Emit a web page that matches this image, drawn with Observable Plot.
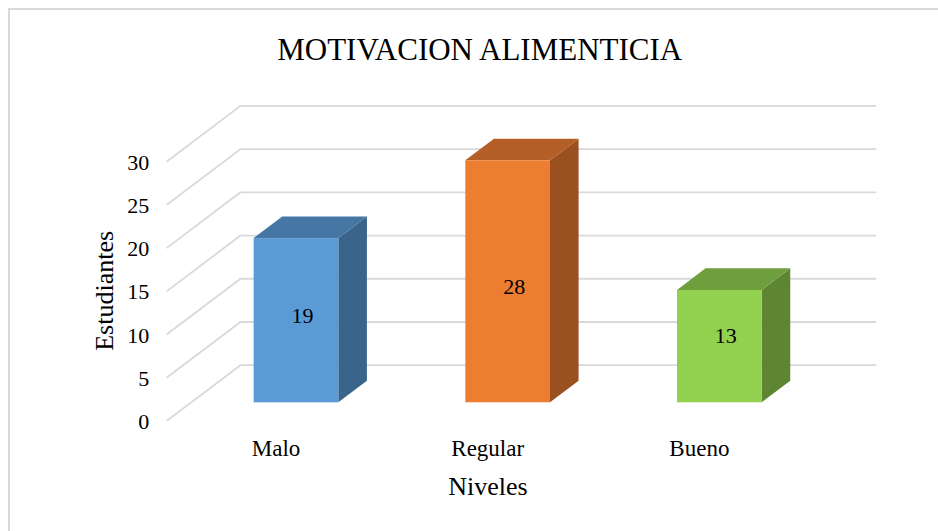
<!DOCTYPE html>
<html>
<head>
<meta charset="utf-8">
<script src="https://cdn.jsdelivr.net/npm/d3@7"></script>
<script src="https://cdn.jsdelivr.net/npm/@observablehq/plot@0.6"></script>
<style>
  html, body { margin: 0; padding: 0; background: #fff; }
  #wrap { position: relative; width: 938px; height: 531px; overflow: hidden; }
  #border { position: absolute; left: 8px; top: 8px; width: 940px; height: 540px;
            border-left: 2px solid #d9d9d9; border-top: 2px solid #d9d9d9; }
  #chart { position: absolute; left: 0; top: 0; }
  #chart svg text { font-family: 'Liberation Serif', 'Times New Roman', serif !important; font-variant: normal !important; }
</style>
</head>
<body>
<div id="wrap"><div id="border"></div><div id="chart"></div></div>
<script>
// ---- data ----
const title = "MOTIVACION ALIMENTICIA";
const xLabel = "Niveles";
const yLabel = "Estudiantes";
const categories = ["Malo", "Regular", "Bueno"];
const values = [19, 28, 13];
const frontColors = ["#5B9BD5", "#ED7D31", "#92D050"];
const topColors = ["#4676A3", "#B45F27", "#6F9E3D"];
const sideColors = ["#3A6489", "#9A501F", "#5E8532"];
const yTicks = [0, 5, 10, 15, 20, 25, 30];

// ---- 3D oblique layout (in data units) ----
const KX = 73.3 / 211.67;   // depth shift along x (category units)
const KY = 55.3 / 8.643;    // depth shift along y (value units)
const D1 = 0.32, D2 = 0.71; // bar front/back depth
const B0 = 0.3, B1 = 0.7;   // bar extent inside category

const gridDiag = yTicks.flatMap(v => [
  {id: v, x: 0, y: v},
  {id: v, x: KX, y: v + KY}
]);
const gridBack = yTicks.flatMap(v => [
  {id: v, x: KX, y: v + KY},
  {id: v, x: categories.length + KX, y: v + KY}
]);

const bars = categories.map((c, i) => ({i, c, v: values[i]}));
const fronts = bars.map(b => ({
  x1: b.i + B0 + D1 * KX, x2: b.i + B1 + D1 * KX,
  y1: D1 * KY, y2: b.v + D1 * KY, fill: frontColors[b.i]
}));
const sides = bars.flatMap(b => [
  {id: b.i, x: b.i + B1 + D1 * KX, y1: D1 * KY, y2: b.v + D1 * KY, fill: sideColors[b.i]},
  {id: b.i, x: b.i + B1 + D2 * KX, y1: D2 * KY, y2: b.v + D2 * KY, fill: sideColors[b.i]}
]);
const tops = bars.flatMap(b => [
  {id: b.i, y: b.v + D1 * KY, x1: b.i + B0 + D1 * KX, x2: b.i + B1 + D1 * KX, fill: topColors[b.i]},
  {id: b.i, y: b.v + D2 * KY, x1: b.i + B0 + D2 * KX, x2: b.i + B1 + D2 * KX, fill: topColors[b.i]}
]);
const labels = bars.map(b => ({
  x: b.i + 0.5 + D1 * KX, y: 0.38 * b.v + D1 * KY, text: String(b.v)
}));

const serif = "'Liberation Serif', 'Times New Roman', serif";

const chart = Plot.plot({
  width: 938,
  height: 531,
  marginLeft: 166.7,
  marginRight: 136.3,
  marginTop: 160.7,
  marginBottom: 111,
  style: {fontFamily: serif, fontSize: "22px", color: "#000", background: "transparent", overflow: "visible"},
  x: {domain: [0, categories.length], axis: null},
  y: {domain: [0, 30], axis: null},
  marks: [
    Plot.line(gridDiag, {x: "x", y: "y", z: "id", stroke: "#d9d9d9", strokeWidth: 1.8}),
    Plot.line(gridBack, {x: "x", y: "y", z: "id", stroke: "#d9d9d9", strokeWidth: 1.8}),
    Plot.areaY(sides, {x: "x", y1: "y1", y2: "y2", z: "id", fill: "fill"}),
    Plot.areaX(tops, {y: "y", x1: "x1", x2: "x2", z: "id", fill: "fill"}),
    Plot.rect(fronts, {x1: "x1", x2: "x2", y1: "y1", y2: "y2", fill: "fill"}),
    Plot.text(labels, {x: "x", y: "y", text: "text", dx: 6, dy: -24, fontSize: 22, fontFamily: serif, fill: "#000"}),
    Plot.axisY(yTicks, {anchor: "left", tickSize: 0, tickPadding: 18, fontSize: 22, fontFamily: serif, dy: 1.5, label: null}),
    Plot.axisX(categories.map((c, i) => i + 0.5), {
      anchor: "bottom", tickSize: 0, tickPadding: 18.7, fontSize: 23, fontFamily: serif, dx: 3,
      tickFormat: d => categories[Math.floor(d)], label: null
    }),
    Plot.text([xLabel], {frameAnchor: "bottom", textAnchor: "middle", dy: 65.7, dx: 3.3, fontSize: 26, fontFamily: serif, lineAnchor: "middle", fill: "#000"}),
    Plot.text([yLabel], {frameAnchor: "left", textAnchor: "middle", dx: -62.3, rotate: -90, fontSize: 26, fontFamily: serif, lineAnchor: "middle", fill: "#000"}),
    Plot.text([title], {frameAnchor: "top", textAnchor: "middle", dy: -111.3, dx: -5, fontSize: 31, fontFamily: serif, lineAnchor: "middle", fill: "#000"})
  ]
});
document.getElementById("chart").appendChild(chart);
</script>
</body>
</html>
